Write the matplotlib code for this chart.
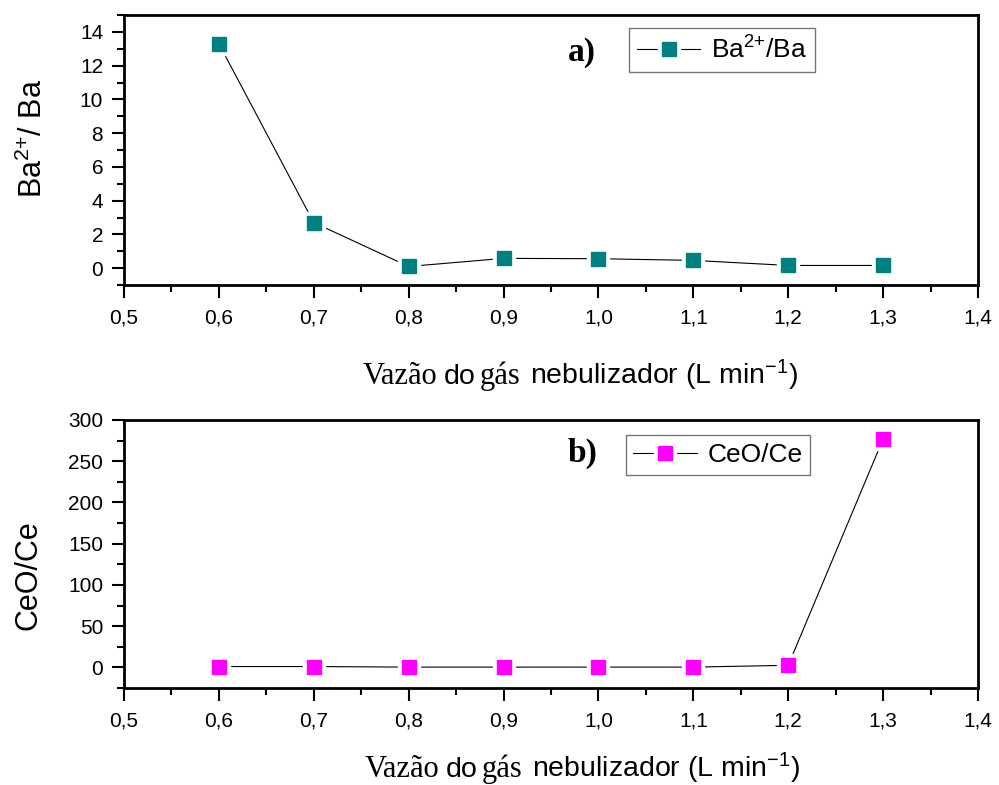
import matplotlib
matplotlib.use("Agg")
import matplotlib.pyplot as plt
from matplotlib.ticker import MultipleLocator, FuncFormatter

plt.rcParams['font.family'] = ['Liberation Sans', 'DejaVu Sans']
plt.rcParams['mathtext.default'] = 'regular'

flow = [0.6, 0.7, 0.8, 0.9, 1.0, 1.1, 1.2, 1.3]
ba_ratio = [13.3, 2.7, 0.1, 0.58, 0.56, 0.46, 0.16, 0.16]
ceo_ratio = [1.0, 1.0, 0.3, 0.3, 0.3, 0.3, 2.5, 277]

teal = '#008080'
magenta = '#FF00FF'

fig = plt.figure(figsize=(9.99, 7.85), dpi=100)
ax1 = fig.add_axes([0.1241, 0.6369, 0.8549, 0.344])
ax2 = fig.add_axes([0.1241, 0.1236, 0.8549, 0.3414])

def comma(v, pos):
    return f"{v:.1f}".replace('.', ',')

def draw(ax, y, color, label, ylim, major, minor, ylabel, tag, tag_xy, leg_anchor):
    l1, = ax.plot(flow, y, color='black', lw=0.8, zorder=2)
    l2, = ax.plot(flow, y, ls='none', marker='s', ms=16, mfc='white', mec='white', zorder=3)
    l3, = ax.plot(flow, y, ls='none', marker='s', ms=10, mfc=color, mec=color, zorder=4)
    ax.set_xlim(0.5, 1.4)
    ax.set_ylim(*ylim)
    ax.xaxis.set_major_locator(MultipleLocator(0.1))
    ax.xaxis.set_minor_locator(MultipleLocator(0.05))
    ax.xaxis.set_major_formatter(FuncFormatter(comma))
    ax.yaxis.set_major_locator(MultipleLocator(major))
    ax.yaxis.set_minor_locator(MultipleLocator(minor))
    ax.tick_params(which='major', direction='out', length=9, width=1.5, labelsize=15)
    ax.tick_params(which='minor', direction='out', length=5, width=1.5)
    ax.tick_params(axis='x', which='major', pad=8)
    ax.tick_params(axis='y', which='major', pad=6)
    for s in ax.spines.values():
        s.set_linewidth(2)
    ax.set_ylabel(ylabel, fontsize=22)
    ax.text(tag_xy[0], tag_xy[1], tag, transform=fig.transFigure, fontsize=24,
            fontweight='bold', family='Liberation Serif', ha='center', va='center')
    leg = ax.legend([(l1, l2, l3)], [label], loc='center', bbox_to_anchor=leg_anchor,
                    bbox_transform=fig.transFigure, fontsize=19, frameon=True,
                    fancybox=False, edgecolor='#555555', handlelength=2.4,
                    borderpad=0.3, handletextpad=0.4)
    leg.get_frame().set_linewidth(1.0)

draw(ax1, ba_ratio, teal, 'Ba$^{2{+}}$/Ba', (-1, 15), 2, 1, 'Ba$^{2{+}}$/ Ba', 'a)',
     (582 / 999, 1 - 53 / 785), (722 / 999, 1 - 50 / 785))
draw(ax2, ceo_ratio, magenta, 'CeO/Ce', (-25, 300), 50, 25, 'CeO/Ce', 'b)',
     (583 / 999, 1 - 453 / 785), (718 / 999, 1 - 455 / 785))
ax1.yaxis.set_label_coords(49 / 999, 1 - 138 / 785, transform=fig.transFigure)
ax2.yaxis.set_label_coords(43 / 999, 1 - 575 / 785, transform=fig.transFigure)

# composite x labels (mixed serif / sans)
pieces = [('Vazão', 'Liberation Serif', 22, 0), ('do', 'Liberation Sans', 20.5, 6),
          ('gás', 'Liberation Serif', 22, 4), ('nebulizador (L min$^{-1}$)', 'Liberation Sans', 20.5, 10)]
renderer = fig.canvas.get_renderer()
for x0, yb in [(363, 384), (365, 777)]:
    x = x0
    for txt, fam, fs, gap in pieces:
        x += gap
        t = fig.text(x / 999, 1 - yb / 785, txt, family=fam, fontsize=fs, ha='left', va='baseline')
        bb = t.get_window_extent(renderer=renderer)
        x = bb.x1

fig.savefig('out.png', dpi=100, facecolor='white')
